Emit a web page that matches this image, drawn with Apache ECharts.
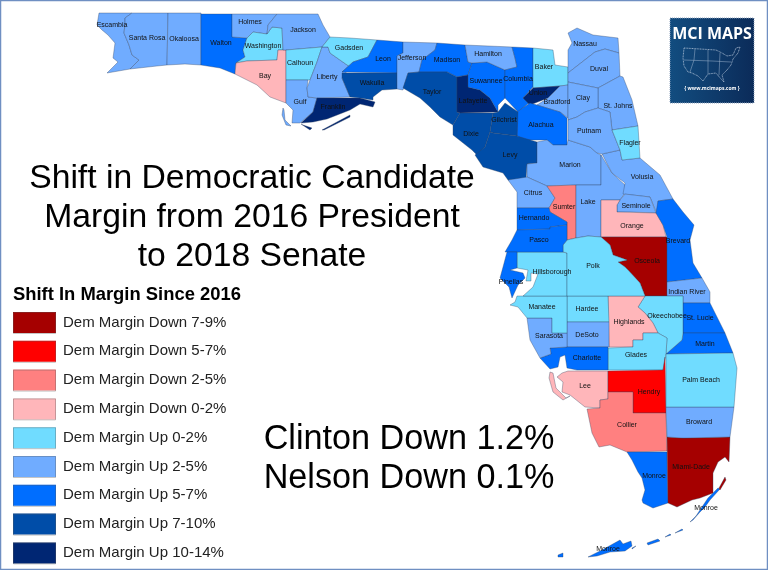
<!DOCTYPE html>
<html><head><meta charset="utf-8">
<style>html,body{margin:0;padding:0;background:#fff}#c{width:768px;height:570px}</style>
<script src="https://cdn.jsdelivr.net/npm/echarts@6/dist/echarts.min.js"></script>
</head><body><div id="c"></div>
<script>
const legendTitle = 'Shift In Margin Since 2016';
const binLabels = ['Dem Margin Down 7-9%','Dem Margin Down 5-7%','Dem Margin Down 2-5%','Dem Margin Down 0-2%','Dem Margin Up 0-2%','Dem Margin Up 2-5%','Dem Margin Up 5-7%','Dem Margin Up 7-10%','Dem Margin Up 10-14%'];
const binRanges = [[-9,-7],[-7,-5],[-5,-2],[-2,0],[0,2],[2,5],[5,7],[7,10],[10,14]];
const binColors = ['#a50000','#ff0000','#ff8080','#ffb6ba','#70dcff','#70acff','#006eff','#004da8','#002673'];
const down7to9 = ['Osceola','Miami-Dade'];
const down5to7 = ['Hendry'];
const down2to5 = ['Sumter','Collier'];
const down0to2 = ['Bay','Orange','Highlands','Lee'];
const up0to2 = ['Washington','Calhoun','Gadsden','Baker','Flagler','Hillsborough','Polk','Manatee','Hardee','Okeechobee','Glades','Palm Beach'];
const up2to5 = ['Escambia','Santa Rosa','Okaloosa','Holmes','Jackson','Gulf','Liberty','Jefferson','Hamilton','Bradford','Nassau','Duval','Clay','St. Johns','Putnam','Marion','Volusia','Seminole','Lake','Citrus','Indian River','Sarasota','DeSoto','Broward'];
const up5to7 = ['Walton','Leon','Madison','Suwannee','Columbia','Alachua','Hernando','Pasco','Pinellas','Brevard','St. Lucie','Martin','Charlotte','Monroe','Monroe (Upper Keys)','Monroe (Lower Keys)'];
const up7to10 = ['Wakulla','Taylor','Gilchrist','Dixie','Levy'];
const up10to14 = ['Franklin','Lafayette','Union'];
const binCounties = [down7to9,down5to7,down2to5,down0to2,up0to2,up2to5,up5to7,up7to10,up10to14];
const binValues = [-8,-6,-3.5,-1,1,3.5,6,8.5,12];

// county outlines (x,y; '|' separates parts)
const outlines = {
'Escambia':'99,13 132,13 125,18 125,24 124,33 129,45 132,55 139,60 130,69 107,73 110,70 118,62 113,58 115,43 108,35 102,30 97,25',
'Santa Rosa':'132,13 168,13 167,65 157,66 130,69 139,60 132,55 129,45 124,33 125,24 125,18',
'Okaloosa':'168,13 201,13 201,65 185,64 167,65',
'Walton':'201,14 232,14 232,37 247,38 243,50 245,57 236,63 235,74 220,68 201,65',
'Holmes':'232,14 277,14 268,25 267,34 253,32 247,38 232,37',
'Washington':'253,32 267,34 272,27 282,28 283,50 278,50 277,60 247,61 236,63 245,57 243,50 247,38',
'Bay':'236,63 247,61 277,60 278,50 286,50 286,103 270,97 257,85 235,74',
'Jackson':'277,14 318,14 323,25 330,37 322,47 287,50 283,50 282,28 272,27 267,34 268,25',
'Calhoun':'286,50 322,47 317,62 310,80 286,80',
'Gulf':'286,80 308,80 307,88 308,97 317,98 313,112 300,123 292,123 293,110 286,103|283,108 282,115 286,125 291,126 285,120 284,110',
'Liberty':'322,47 328,47 330,53 350,67 342,78 350,97 317,98 308,97 307,88 310,80 317,62',
'Franklin':'317,98 340,98 360,98 375,102 373,107 360,104 350,110 327,119 313,122 301,123 313,112|303,125 312,128 310,130 301,124|322,130 350,115 350,117 324,130',
'Gadsden':'330,37 350,38 377,40 368,57 353,62 342,72 350,67 330,53 328,47 322,47',
'Leon':'377,40 403,42 403,53 397,56 397,73 342,72 353,62 368,57',
'Wakulla':'342,73 397,73 397,89 382,90 373,97 373,100 360,98 350,97 342,78',
'Jefferson':'403,42 437,43 435,50 422,60 419,72 408,73 403,90 397,89 397,56 403,53',
'Madison':'437,43 465,45 468,62 472,63 468,75 457,77 447,72 419,72 422,60 435,50',
'Taylor':'419,72 447,72 457,77 457,112 460,113 453,125 440,117 430,107 420,98 403,88 408,73',
'Lafayette':'457,77 468,75 468,87 480,90 490,98 498,112 460,113 457,112',
'Suwannee':'472,63 487,62 505,70 505,98 498,105 498,112 490,98 480,90 468,87 468,75',
'Hamilton':'465,45 512,47 515,58 517,67 505,70 487,62 472,63 468,62',
'Columbia':'512,47 533,48 533,87 523,98 530,102 518,112 505,98 505,70 517,67 515,58',
'Baker':'533,48 553,50 555,65 568,67 568,85 560,86 533,88',
'Union':'533,88 560,86 548,98 530,105 523,98',
'Bradford':'560,86 568,85 568,118 560,112 537,105 548,98',
'Alachua':'530,103 537,105 560,112 567,118 567,140 567,145 553,145 547,140 525,140 517,136 517,112',
'Gilchrist':'505,103 518,112 517,136 493,133 490,132 493,113 498,112',
'Dixie':'460,113 493,113 490,132 485,147 477,155 472,150 453,135 453,125',
'Levy':'493,133 517,136 537,142 537,163 527,164 526,179 508,180 503,173 483,167 475,155 485,147 490,132',
'Marion':'537,142 547,140 553,145 567,145 568,140 590,147 597,153 601,155 601,185 576,185 547,186 527,177 527,164 537,163',
'Citrus':'508,180 527,177 547,186 555,198 549,208 517,208 517,192',
'Sumter':'547,186 576,185 576,238 567,240 567,222 550,212 549,208 555,198',
'Lake':'601,155 612,173 625,185 625,193 620,200 601,200 601,237 588,236 576,238 576,185 601,185',
'Volusia':'602,154 620,150 622,160 640,158 660,175 673,199 658,201 657,214 650,197 623,194 625,183 612,173',
'Seminole':'620,200 625,194 650,197 656,213 630,212 617,212 617,205',
'Orange':'601,200 620,200 617,205 617,212 656,213 663,225 666,237 601,237',
'Osceola':'601,237 667,237 667,296 645,296 640,283 628,270 625,267 618,262 627,260 613,255 610,245',
'Brevard':'658,201 673,199 683,212 694,225 690,240 693,263 702,278 667,282 667,237 663,225 656,213',
'Indian River':'667,282 702,278 710,292 710,303 683,303 683,296 667,296',
'St. Lucie':'683,303 710,303 725,333 683,333',
'Martin':'683,333 725,333 733,353 666,354 682,340',
'Okeechobee':'645,296 683,296 683,333 682,340 666,354 667,338 658,333 653,323 645,313 638,307',
'Highlands':'608,296 645,296 638,307 645,313 653,323 658,333 643,333 643,340 633,340 633,347 609,347',
'Glades':'608,348 633,347 633,340 643,340 643,333 658,333 667,338 666,354 663,370 608,370',
'Hardee':'567,296 608,296 609,322 567,322',
'DeSoto':'567,322 609,322 609,347 567,347',
'Charlotte':'550,348 567,347 608,347 608,370 577,370 567,368 565,355 560,357 558,367 550,369 540,358 551,354',
'Sarasota':'527,318 552,318 552,333 567,333 567,347 550,348 551,354 540,358 530,340',
'Manatee':'517,296 567,296 567,333 552,333 552,318 527,318 518,307 510,305 515,302',
'Hillsborough':'517,252 563,252 567,253 567,296 523,296 533,287 538,274 531,273 531,281 526,281 528,270 517,268',
'Polk':'563,245 567,240 576,238 588,236 601,237 610,245 613,255 627,260 618,262 625,267 628,270 640,283 645,296 567,296 567,253 563,252',
'Hernando':'517,208 549,208 550,212 567,222 567,225 550,227 550,229 517,230',
'Pasco':'517,230 550,229 550,227 567,225 567,240 563,245 563,252 505,252 512,240',
'Pinellas':'507,252 517,252 517,268 510,270 523,273 525,278 518,285 512,298 509,287 500,278 503,267',
'Lee':'568,371 608,371 608,399 600,400 600,408 585,407 570,395 562,392 563,382 557,377 562,373|550,372 553,373 556,388 566,398 570,396 563,400 553,392 549,378',
'Hendry':'608,371 663,370 665,357 666,413 633,413 633,392 608,392',
'Collier':'608,392 633,392 633,413 666,413 667,451 627,452 610,445 599,447 592,433 587,409 600,408 600,400 608,399',
'Monroe':'627,452 667,452 668,503 653,508 643,503 642,500 645,490 642,478 638,472 632,460',
'Monroe (Upper Keys)':'720,489 710,500 705,507 700,512 693,520 690,522 696,516 702,507 708,498 718,488|682,529 675,533 676,534 683,530|670,534 665,537 666,538 671,535|658,539 647,543 648,545 660,541',
'Monroe (Lower Keys)':'588,557 602,550 620,540 623,544 631,541 632,546 625,551 610,552 597,556|558,555 563,553 563,557 558,557|632,548 636,546 636,547 632,549',
'Miami-Dade':'667,437 683,438 730,437 729,462 725,457 718,462 713,473 713,493 700,498 692,500 677,507 668,503|725,477 726,480 720,490 719,488',
'Broward':'666,407 734,407 730,437 683,438 667,437',
'Palm Beach':'666,354 733,353 737,368 734,407 666,407',
'Nassau':'568,33 577,28 593,35 618,38 619,53 605,49 595,52 568,73 568,50 572,43',
'Duval':'568,73 595,52 605,49 619,53 620,76 598,88 568,82',
'St. Johns':'598,88 620,76 623,77 632,100 638,126 612,130 610,112 598,108',
'Clay':'568,82 598,88 598,108 585,112 577,117 568,120',
'Putnam':'568,120 577,117 585,112 598,108 610,112 612,130 620,150 602,154 597,153 590,147 568,140',
'Flagler':'612,130 638,126 640,158 622,160 620,150'
};
const labelPoints = {
'Escambia':[112,25],'Santa Rosa':[147,38],'Okaloosa':[184,39],'Walton':[221,43],'Holmes':[250,22],'Washington':[263,46],'Bay':[265,76],'Jackson':[303,30],'Calhoun':[300,63],'Gulf':[300,102],'Liberty':[327,77],'Franklin':[333,107],'Gadsden':[349,48],'Leon':[383,59],'Wakulla':[372,83],'Jefferson':[412,58],'Madison':[447,60],'Taylor':[432,92],'Lafayette':[473,101],'Suwannee':[486,81],'Hamilton':[488,54],'Columbia':[518,79],'Baker':[544,67],'Union':[538,93],'Bradford':[557,102],'Alachua':[541,125],'Gilchrist':[504,120],'Dixie':[471,134],'Levy':[510,155],'Marion':[570,165],'Citrus':[533,193],'Sumter':[564,207],'Lake':[588,202],'Hernando':[534,218],'Pasco':[539,240],'Pinellas':[511,282],'Hillsborough':[552,272],'Polk':[593,266],'Osceola':[647,261],'Orange':[632,226],'Seminole':[636,206],'Volusia':[642,177],'Flagler':[630,143],'St. Johns':[618,106],'Putnam':[589,131],'Clay':[583,98],'Duval':[599,69],'Nassau':[585,44],'Brevard':[678,241],'Indian River':[687,292],'St. Lucie':[700,318],'Martin':[705,344],'Okeechobee':[667,316],'Highlands':[629,322],'Hardee':[587,309],'Manatee':[542,307],'Sarasota':[549,336],'DeSoto':[587,335],'Charlotte':[587,358],'Glades':[636,355],'Lee':[585,386],'Hendry':[649,392],'Palm Beach':[701,380],'Broward':[699,422],'Collier':[627,425],'Monroe':[654,476],'Monroe (Upper Keys)':[706,508],'Monroe (Lower Keys)':[608,549],'Miami-Dade':[691,467]
};

const parseRing = s => { const r = s.trim().split(/\s+/).map(p => { const [x,y] = p.split(',').map(Number); return [x,-y]; }); r.push(r[0]); return r; };
const geo = { type:'FeatureCollection', features:Object.keys(outlines).map(name => ({
  type:'Feature',
  properties:{ name, cp:[labelPoints[name][0], -labelPoints[name][1]] },
  geometry:{ type:'MultiPolygon', coordinates:outlines[name].split('|').map(s => [parseRing(s)]) }
}))};
echarts.registerMap('florida', geo);

const seriesData = [];
binCounties.forEach((list,i) => list.forEach(name => seriesData.push({ name, value:binValues[i] })));

const swatchTop = 312, swatchStep = 28.8;
const frame = [{ type:'rect', silent:true, z:100, shape:{x:0,y:0,width:768,height:570}, style:{fill:'none',stroke:'#6f8fc2',lineWidth:2.5} }];
const swatchEdges = binLabels.map((_,i) => ({ type:'rect', silent:true, z:50, shape:{x:13.5,y:swatchTop+i*swatchStep+0.5,width:42,height:21}, style:{fill:'none',stroke:'rgba(90,90,90,0.35)',lineWidth:1} }));
const logo = [
 { type:'rect', silent:true, z:20, shape:{x:670,y:18,width:84,height:85}, style:{ stroke:'#8fa3bd', lineWidth:1, lineDash:[1,1],
   fill:new echarts.graphic.LinearGradient(0,0,1,0,[{offset:0,color:'#124d80'},{offset:1,color:'#0b2b59'}]) } },
 { type:'text', silent:true, z:21, style:{ x:712, y:34, text:'MCI MAPS', fill:'#fff', font:'bold 16px "Open Sans"', textAlign:'center', textVerticalAlign:'middle' } },
 { type:'polygon', silent:true, z:21, shape:{points:[[684,48],[700,49],[716,50],[722,53],[727,56],[733,55],[736,48],[740,47],[738,53],[733,59],[731,65],[727,70],[722,75],[724,82],[721,79],[716,73],[708,74],[703,81],[698,76],[692,73],[688,72],[684,66],[683,58]]}, style:{fill:'none',stroke:'#c9d6e6',lineWidth:0.7,lineDash:[1,0.6]} },
 { type:'polyline', silent:true, z:21, shape:{points:[[695,49],[694,60],[690,72]]}, style:{fill:'none',stroke:'#9fb4cf',lineWidth:0.5} },
 { type:'polyline', silent:true, z:21, shape:{points:[[684,60],[712,61],[731,62]]}, style:{fill:'none',stroke:'#9fb4cf',lineWidth:0.5} },
 { type:'polyline', silent:true, z:21, shape:{points:[[708,50],[708,74]]}, style:{fill:'none',stroke:'#9fb4cf',lineWidth:0.5} },
 { type:'polyline', silent:true, z:21, shape:{points:[[720,53],[719,75]]}, style:{fill:'none',stroke:'#9fb4cf',lineWidth:0.5} },
 { type:'text', silent:true, z:21, style:{ x:712, y:89, text:'{ www.mcimaps.com }', fill:'#fff', font:'bold 5px "Open Sans"', textAlign:'center', textVerticalAlign:'middle' } }
];

const FONT = '"Liberation Sans", Arial, sans-serif';
const chart = echarts.init(document.getElementById('c'), null, { renderer:'canvas' });
chart.setOption({
  animation:false,
  backgroundColor:'#fff',
  title:[
    { text:'Shift in Democratic Candidate\nMargin from 2016 President\nto 2018 Senate', left:252, top:159, textAlign:'center', padding:0,
      textStyle:{ fontFamily:FONT, fontSize:33.7, fontWeight:'normal', lineHeight:39, color:'#000' } },
    { text:'Clinton Down 1.2%\nNelson Down 0.1%', left:409, top:420, textAlign:'center', padding:0,
      textStyle:{ fontFamily:FONT, fontSize:34.2, fontWeight:'normal', lineHeight:39, color:'#000' } },
    { text:legendTitle, left:13, top:286, padding:0,
      textStyle:{ fontFamily:FONT, fontSize:18.4, fontWeight:'bold', color:'#000' } }
  ],
  visualMap:{
    type:'piecewise', seriesIndex:0, inverse:true, left:13, top:swatchTop, padding:0, orient:'vertical', hoverLink:false, selectedMode:false,
    itemWidth:43, itemHeight:21, itemGap:7.8, itemSymbol:'rect', textGap:7,
    textStyle:{ fontFamily:FONT, fontSize:15, color:'#222' },
    pieces:binLabels.map((label,i) => ({ min:binRanges[i][0], max:binRanges[i][1], label, color:binColors[i] }))
  },
  series:[{
    type:'map', map:'florida', aspectScale:1, roam:false, silent:true,
    left:0, top:0, width:768, height:570,
    boundingCoords:[[0,0],[768,-570]],
    itemStyle:{ borderColor:'rgba(50,65,95,0.5)', borderWidth:0.7 },
    label:{ show:true, fontFamily:FONT, fontSize:7, color:'#111', formatter:p => p.name.split(' (')[0] },
    labelLayout:{ hideOverlap:false },
    data:seriesData
  }],
  graphic:frame.concat(swatchEdges, logo)
});
</script></body></html>
